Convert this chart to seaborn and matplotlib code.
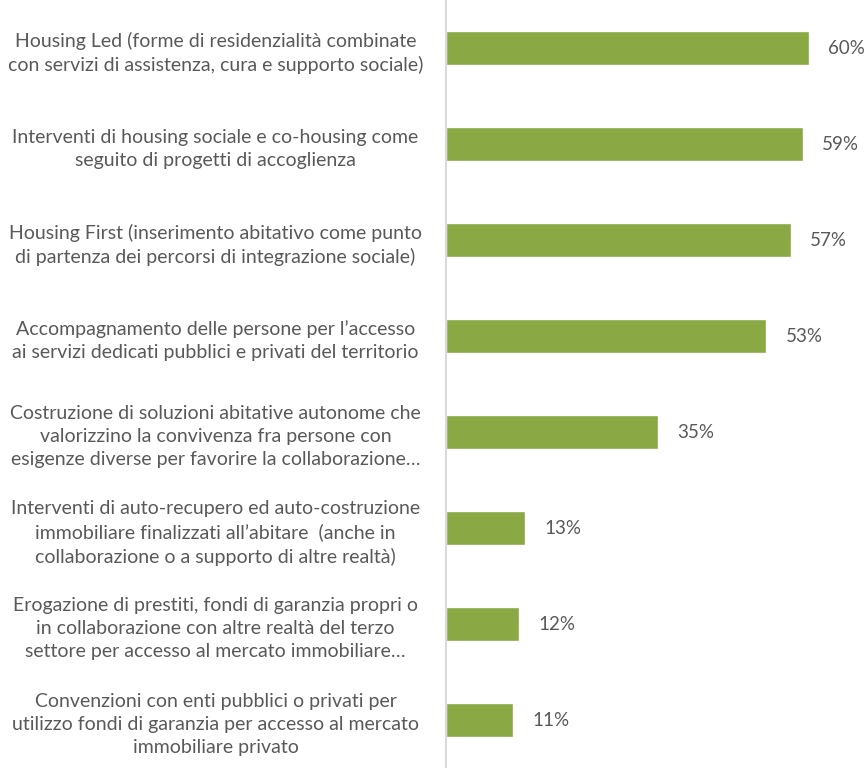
import matplotlib
matplotlib.use("Agg")
import matplotlib.pyplot as plt
import seaborn as sns
import pandas as pd

categories = [
    "Housing Led (forme di residenzialità combinate\ncon servizi di assistenza, cura e supporto sociale)",
    "Interventi di housing sociale e co-housing come\nseguito di progetti di accoglienza",
    "Housing First (inserimento abitativo come punto\ndi partenza dei percorsi di integrazione sociale)",
    "Accompagnamento delle persone per l’accesso\nai servizi dedicati pubblici e privati del territorio",
    "Costruzione di soluzioni abitative autonome che\nvalorizzino la convivenza fra persone con\nesigenze diverse per favorire la collaborazione…",
    "Interventi di auto-recupero ed auto-costruzione\nimmobiliare finalizzati all’abitare  (anche in\ncollaborazione o a supporto di altre realtà)",
    "Erogazione di prestiti, fondi di garanzia propri o\nin collaborazione con altre realtà del terzo\nsettore per accesso al mercato immobiliare…",
    "Convenzioni con enti pubblici o privati per\nutilizzo fondi di garanzia per accesso al mercato\nimmobiliare privato",
]
values = [60, 59, 57, 53, 35, 13, 12, 11]

df = pd.DataFrame({"categoria": categories, "valore": values})

sns.set_style("white")
plt.rcParams['font.family'] = ['Lato', 'DejaVu Sans']

text_color = "#595959"
bar_color = "#8AA944"

fig = plt.figure(figsize=(8.65, 7.68), dpi=100)
ax = fig.add_axes([446 / 865, 0, 419 / 865, 1])

sns.barplot(data=df, y="categoria", x="valore", orient="h", color=bar_color,
            width=0.35, saturation=1, ax=ax)

ax.set_xlim(0, 69.3)
ax.set_ylim(7.5, -0.5)
ax.set_xlabel("")
ax.set_ylabel("")
ax.set_xticks([])

for s in ["top", "right", "bottom"]:
    ax.spines[s].set_visible(False)
ax.spines["left"].set_color("#D9D9D9")
ax.spines["left"].set_linewidth(1.5)

ax.tick_params(axis="y", length=0, pad=166)
for lbl in ax.get_yticklabels():
    lbl.set_horizontalalignment("center")
    lbl.set_multialignment("center")
    lbl.set_fontsize(14)
    lbl.set_color(text_color)
    lbl.set_linespacing(1.45)

ax.bar_label(ax.containers[0], labels=[f"{v}%" for v in values],
             padding=14, fontsize=13.5, color=text_color)

fig.savefig("out.png", dpi=100)
